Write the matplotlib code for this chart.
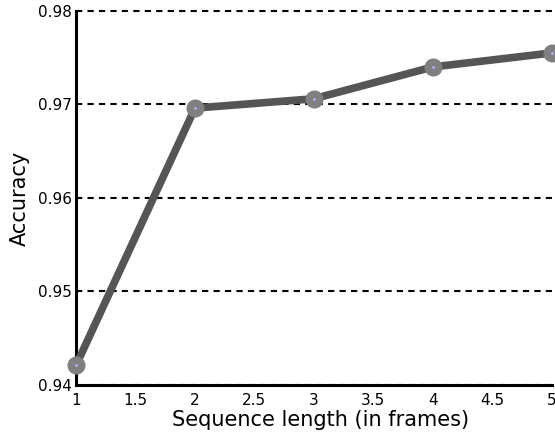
import matplotlib
matplotlib.use('Agg')
import matplotlib.pyplot as plt

# Accuracy vs. sequence length
seq_len = [1, 2, 3, 4, 5]
accuracy = [0.9421, 0.9696, 0.9706, 0.9740, 0.9755]

plt.rcParams['font.family'] = ['DejaVu Sans']

fig = plt.figure(figsize=(5.55, 4.34), dpi=100)
ax = fig.add_axes([0.137, 0.113, 0.857, 0.862])

ax.plot(seq_len, accuracy, color='#555555', linewidth=5.5, zorder=3, clip_on=False)
ax.plot(seq_len, accuracy, linestyle='none', marker='o', markersize=12,
        markerfacecolor='#808080', markeredgecolor='#808080', zorder=4, clip_on=False)
ax.plot(seq_len, accuracy, linestyle='none', marker='.', markersize=2,
        color='#b0b0ff', zorder=5, clip_on=False)

ax.set_xlim(1, 5)
ax.set_ylim(0.94, 0.98)
ax.set_xticks([1, 1.5, 2, 2.5, 3, 3.5, 4, 4.5, 5])
ax.set_xticklabels(['1', '1.5', '2', '2.5', '3', '3.5', '4', '4.5', '5'])
ax.set_yticks([0.94, 0.95, 0.96, 0.97, 0.98])
ax.set_yticklabels(['0.94', '0.95', '0.96', '0.97', '0.98'])
ax.tick_params(length=0, labelsize=11)
ax.tick_params(axis='x', pad=6)
ax.tick_params(axis='y', pad=3)

ax.yaxis.grid(True, linestyle=(0, (3, 2.5)), color='black', linewidth=1.5)
for gl in ax.get_ygridlines():
    gl.set_clip_on(False)
ax.set_axisbelow(True)
for s in ['top', 'right']:
    ax.spines[s].set_visible(False)
for s in ['left', 'bottom']:
    ax.spines[s].set_linewidth(2.2)

ax.set_xlabel('Sequence length (in frames)', fontsize=15)
ax.xaxis.set_label_coords(0.515, -0.066)
ax.set_ylabel('Accuracy', fontsize=15, labelpad=6)

fig.savefig('out.png', dpi=100)
